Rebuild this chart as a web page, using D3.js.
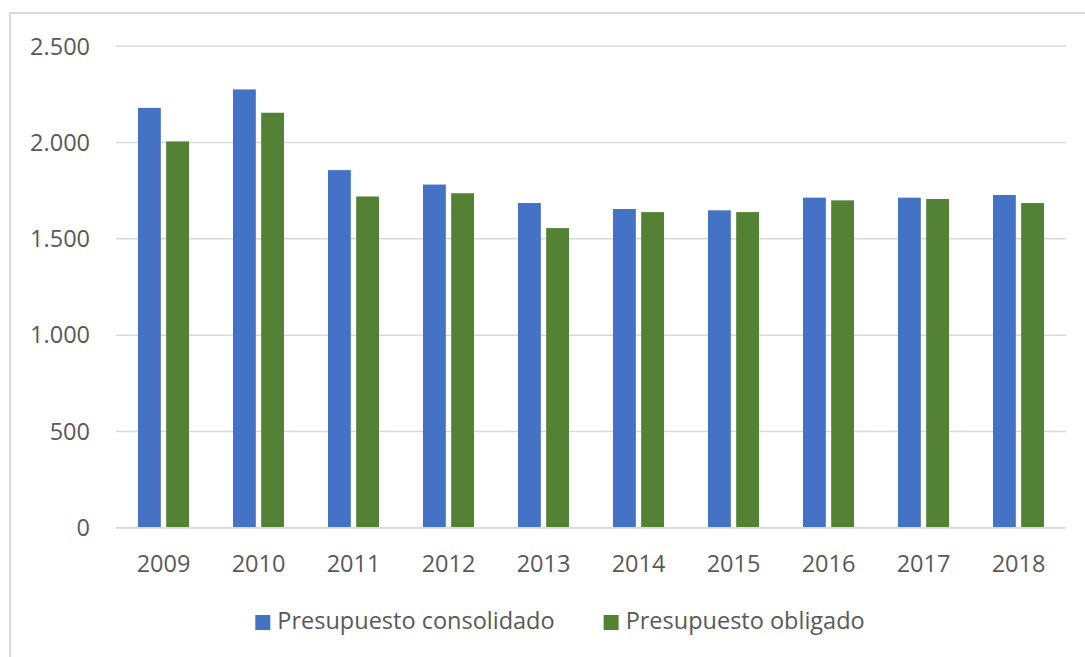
<!DOCTYPE html>
<html>
<head>
<meta charset="utf-8">
<script src="https://cdn.jsdelivr.net/npm/d3@7"></script>
<style>
  html, body { margin: 0; padding: 0; background: #fff; overflow: hidden; }
  text { font-family: 'Open Sans', sans-serif; fill: #595959; }
</style>
</head>
<body>
<script>
(function() {
    'use strict';

    var years = ['2009', '2010', '2011', '2012', '2013', '2014', '2015', '2016', '2017', '2018'];
    var consolidado = [2180, 2276, 1857, 1782, 1686, 1655, 1648, 1714, 1714, 1728];
    var obligado = [2006, 2155, 1720, 1737, 1556, 1639, 1639, 1700, 1707, 1686];
    var seriesNames = ['Presupuesto consolidado', 'Presupuesto obligado'];
    var seriesColors = ['#4472C4', '#548235'];
    var yTicks = [0, 500, 1000, 1500, 2000, 2500];

    var width = 1085, height = 657;
    var plot = { left: 116, right: 1066, top: 46.3, bottom: 527.7 };
    var fontSize = 23.5;

    var svg = d3.select('body').append('svg')
        .attr('width', width)
        .attr('height', height);

    // chart frame (runs off the right and bottom edges)
    svg.append('rect')
        .attr('x', 10)
        .attr('y', 13)
        .attr('width', 1200)
        .attr('height', 800)
        .attr('fill', 'none')
        .attr('stroke', '#d9d9d9')
        .attr('stroke-width', 2);

    var x0 = d3.scaleBand()
        .domain(years)
        .range([plot.left, plot.right])
        .paddingInner(0.463)
        .paddingOuter(0.2315);

    var x1 = d3.scaleBand()
        .domain(seriesNames)
        .range([0, x0.bandwidth()])
        .paddingInner(0.19);

    var y = d3.scaleLinear()
        .domain([0, 2500])
        .range([plot.bottom, plot.top]);

    var fmt = function(d) {
        return d3.format(',')(d).replace(/,/g, '.');
    };

    // gridlines
    svg.append('g')
        .selectAll('line')
        .data(yTicks)
        .enter().append('line')
        .attr('x1', plot.left)
        .attr('x2', plot.right)
        .attr('y1', function(d) { return y(d); })
        .attr('y2', function(d) { return y(d); })
        .attr('stroke', '#d9d9d9')
        .attr('stroke-width', 1.5);

    // y labels
    svg.append('g')
        .selectAll('text')
        .data(yTicks)
        .enter().append('text')
        .attr('x', 90)
        .attr('y', function(d) { return y(d); })
        .attr('dy', '0.35em')
        .attr('text-anchor', 'end')
        .style('font-size', fontSize + 'px')
        .text(fmt);

    // bars
    var data = years.map(function(yr, i) {
        return { year: yr, values: [consolidado[i], obligado[i]] };
    });

    var groups = svg.append('g')
        .selectAll('g')
        .data(data)
        .enter().append('g')
        .attr('transform', function(d) { return 'translate(' + x0(d.year) + ',0)'; });

    groups.selectAll('rect')
        .data(function(d) {
            return d.values.map(function(v, j) { return { name: seriesNames[j], value: v, color: seriesColors[j] }; });
        })
        .enter().append('rect')
        .attr('x', function(d) { return x1(d.name); })
        .attr('y', function(d) { return y(d.value); })
        .attr('width', x1.bandwidth())
        .attr('height', function(d) { return y(0) - y(d.value); })
        .attr('fill', function(d) { return d.color; });

    // redraw zero line over bar feet
    svg.append('line')
        .attr('x1', plot.left)
        .attr('x2', plot.right)
        .attr('y1', y(0))
        .attr('y2', y(0))
        .attr('stroke', '#d9d9d9')
        .attr('stroke-width', 1.5);

    // x labels
    svg.append('g')
        .selectAll('text')
        .data(years)
        .enter().append('text')
        .attr('x', function(d) { return x0(d) + x0.bandwidth() / 2; })
        .attr('y', 572)
        .attr('text-anchor', 'middle')
        .style('font-size', fontSize + 'px')
        .text(function(d) { return d; });

    // legend
    var legend = svg.append('g');
    var items = legend.selectAll('g')
        .data(seriesNames)
        .enter().append('g');

    items.append('rect')
        .attr('width', 15)
        .attr('height', 15)
        .attr('y', -14)
        .attr('fill', function(d, i) { return seriesColors[i]; });

    items.append('text')
        .attr('x', 22)
        .attr('y', 0)
        .style('font-size', fontSize + 'px')
        .text(function(d) { return d; });

    var offset = 0;
    items.each(function() {
        var w = this.getBBox().width;
        d3.select(this).attr('transform', 'translate(' + offset + ',0)');
        offset += w + 49;
    });
    offset -= 49;
    legend.attr('transform', 'translate(' + (560 - offset / 2) + ',629)');
}());
</script>
</body>
</html>
